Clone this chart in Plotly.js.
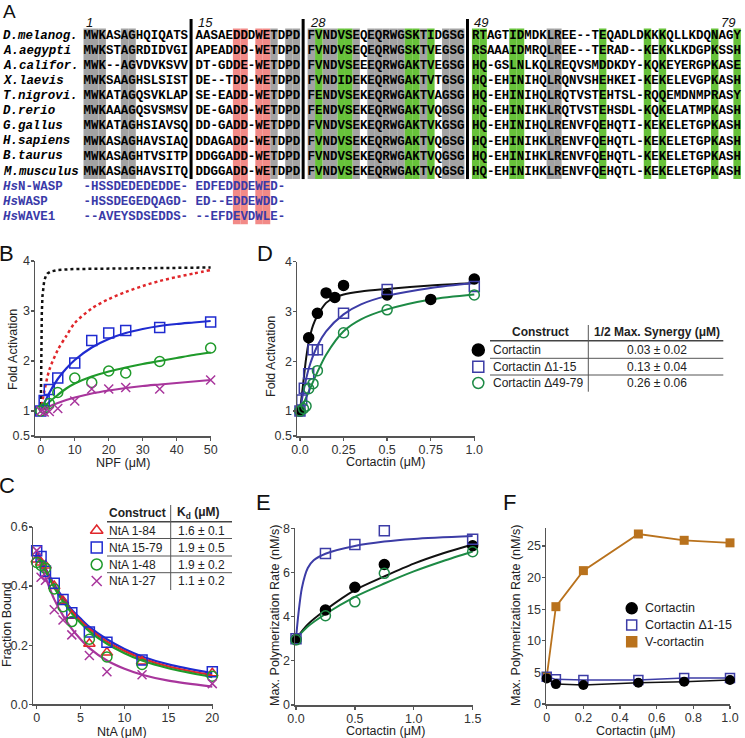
<!DOCTYPE html>
<html><head><meta charset="utf-8">
<script src="https://cdn.plot.ly/plotly-3.0.1.min.js"></script>
<style>body{margin:0;background:#fff}</style>
</head><body><div id="chart" style="width:745px;height:738px"></div>
<script>
// ---------------- Panel A : alignment ----------------
const speciesNames = ["D.melanog.","A.aegypti","A.califor.","X.laevis","T.nigrovi.","D.rerio","G.gallus","H.sapiens","B.taurus","M.musculus"];
const seqBlock1 = ["MWKASAGHQIQATS","MWKSTAGRDIDVGI","MWK--AGVDVKSVV","MWKSAAGHSLSIST","MWKATAGQSVKLAP","MWKAAAGQSVSMSV","MWKATAGHSIAVSQ","MWKASAGHAVSIAQ","MWKASAGHTVSITP","MWKASAGHAVSITQ"];
const seqBlock2 = ["AASAEDDDWETDPD","APEADDD-WETDPD","DT-GDDE-WETDPD","DE--TDD-WETDPD","SE-EADD-WETDPD","DE-GADD-WETDPD","DD-GADD-WETDPD","DDAGADD-WETDPD","DDGGADD-WETDPD","DDGGADD-WETDPD"];
const seqBlock3 = ["FVNDVSEQEQRWGSKTIDGSG","FVNDVSEQEQRWGSKTVEGSG","FVNDVSEEEQRWGAKTVEGSG","FVNDIDEKEQRWGAKTVTGSG","FENDVSEKEQRWGAKTVAGSG","FENDVSEKEQRWGAKTVQGSG","FVNDVSEKEQRWGAKTVKGSG","FVNDVSEKEQRWGAKTVQGSG","FVNDVSEKEQRWGAKTVQGSG","FVNDVSEKEQRWGAKTVQGSG"];
const seqBlock4 = ["RTAGTIDMDKLREE--TEQADLDKKKQLLKDQNAGY","RSAAAIDMRQLREE--TERAD--KEKKLKDGPKSSH","HQ-GSLNLKQLREQVSMDDKDY-KQKEYERGPKASE","HQ-EHINIHQLRQNVSHEHKEI-KEKELEVGPKASH","HQ-EHINIHQLRQTVSTEHTSL-RQQEMDNMPRASY","HQ-EHINIHKLRQTVSTEHSDL-KQKELATMPKASH","HQ-EHINIHQLRENVFQEHQTI-KEKELETGPKASH","HQ-EHINIHKLRENVFQEHQTL-KEKELETGPKASH","HQ-EHINIHKLRENVFQEHQTL-KEKELETGPKASH","HQ-EHINIHKLRENVFQEHQTL-KEKELETGPKASH"];
const npfNames = ["<i>Hs</i>N-WASP","<i>Hs</i>WASP","<i>Hs</i>WAVE1"];
const npfBlock1 = ["-HSSDEDEDEDDE-","-HSSDEGEDQAGD-","--AVEYSDSEDDS-"];
const npfBlock2 = ["EDFEDDDEWED-","ED--EDDEWDD-","--EFDEVDWLE-"];
const residueLabels = ["1","15","28","49","79"];
const residueColumns = [0,15,30,52,85];
// conserved columns (index in the full aligned line, blocks separated by one space)
const grayColumns = [0,1,2,5,6, 25,27,28, 30,32,33,36,38,39,40,41,42,45,48,49,50, 62,63];
const greenColumns = [31,34,35,43,44,46, 52,53,57,58,69,75,77,84,87];
const redColumns = [20,21,23,24];

// ---------------- Panel B ----------------
const npfConc = [0,1,2.5,5,10,15,20,25,35,50];
const bNtA15_79 = [1.0,1.21,1.43,1.66,1.96,2.41,2.56,2.61,2.67,2.78];
const bNtA1_48 = [1.0,1.05,1.15,1.37,1.66,1.57,1.80,1.76,1.99,2.26];
const bNtA1_27 = [1.0,0.98,0.99,1.05,1.20,1.44,1.44,1.47,1.44,1.62];
const bFitX = [0,1,2.5,5,7.5,10,15,20,25,30,35,40,45,50];
const bFit15_79 = [1,1.15,1.36,1.64,1.85,2.02,2.27,2.44,2.56,2.64,2.70,2.74,2.77,2.80];
const bFit1_48 = [1,1.08,1.18,1.32,1.45,1.55,1.69,1.79,1.87,1.94,2.00,2.06,2.12,2.17];
const bFit1_27 = [1,1.04,1.09,1.16,1.22,1.27,1.35,1.41,1.46,1.50,1.53,1.56,1.59,1.62];
const bRedX = [0,0.5,1,2.5,5,7.5,10,15,20,25,30,35,40,45,50];
const bRedY = [1,1.2,1.38,1.82,2.22,2.5,2.76,3.05,3.24,3.38,3.5,3.6,3.68,3.75,3.82];
const bBlackX = [0,0.05,0.1,0.2,0.3,0.5,1,1.5,2,3,5,10,20,35,50];
const bBlackY = [1,1.5,2.0,2.6,2.95,3.3,3.6,3.7,3.75,3.79,3.82,3.84,3.85,3.86,3.87];

// ---------------- Panel C ----------------
const ntaConc = [0,0.5,1,2,3,4,6,8,12,20];
const cNtA1_84 = [0.49,0.48,0.47,0.40,0.35,0.30,0.205,0.175,0.145,0.105];
const cNtA15_79 = [0.52,0.50,0.45,0.41,0.355,0.31,0.245,0.21,0.15,0.11];
const cNtA1_48 = [0.48,0.47,0.46,0.39,0.33,0.28,0.22,0.16,0.135,0.095];
const cNtA1_27 = [0.52,0.43,0.42,0.32,0.285,0.235,0.165,0.11,0.10,0.07];
const cFitX = [0,0.5,1,2,3,4,5,6,8,10,12,15,20];
const cFit1_84 = [0.51,0.48,0.455,0.40,0.355,0.315,0.283,0.255,0.212,0.18,0.155,0.128,0.098];
const cFit15_79 = [0.52,0.49,0.46,0.405,0.36,0.32,0.29,0.262,0.22,0.187,0.162,0.135,0.105];
const cFit1_48 = [0.50,0.475,0.45,0.395,0.348,0.308,0.275,0.247,0.205,0.173,0.148,0.122,0.092];
const cFit1_27 = [0.51,0.47,0.43,0.355,0.30,0.255,0.22,0.19,0.148,0.12,0.10,0.08,0.06];
const cConstructs = ["NtA 1-84","NtA 15-79","NtA 1-48","NtA 1-27"];
const cKd = ["1.6 ± 0.1","1.9 ± 0.5","1.9 ± 0.2","1.1 ± 0.2"];

// ---------------- Panel D ----------------
const dCortX = [0,0.05,0.1,0.15,0.2,0.25,0.5,0.75,1.0];
const dCortY = [1.0,2.47,2.96,3.37,3.28,3.52,3.33,3.24,3.65];
const dD115X = [0,0.01,0.025,0.05,0.075,0.1,0.25,0.5,1.0];
const dD115Y = [1.0,1.22,1.46,1.75,2.23,2.23,2.96,3.44,3.50];
const dD4979X = [0,0.02,0.035,0.05,0.075,0.1,0.25,0.5,1.0];
const dD4979Y = [1.0,1.05,1.1,1.45,1.55,1.81,2.57,3.03,3.33];
const dFitCortX = [0,0.01,0.02,0.035,0.05,0.075,0.1,0.15,0.2,0.25,0.35,0.5,0.75,1.0];
const dFitCortY = [1.0,1.3,1.6,2.05,2.38,2.72,2.91,3.17,3.28,3.34,3.40,3.45,3.52,3.57];
const dFitX = [0,0.02,0.05,0.1,0.15,0.25,0.35,0.5,0.75,1.0];
const dFitD115 = [1.0,1.39,1.85,2.31,2.6,2.94,3.14,3.31,3.47,3.57];
const dFitD4979 = [1.0,1.15,1.39,1.78,2.13,2.6,2.84,3.04,3.24,3.34];
const dConstructs = ["Cortactin","Cortactin Δ1-15","Cortactin Δ49-79"];
const dSynergy = ["0.03 ± 0.02","0.13 ± 0.04","0.26 ± 0.06"];

// ---------------- Panel E ----------------
const eConc = [0,0.25,0.5,0.75,1.5];
const eCort = [2.97,4.3,5.33,6.36,7.21];
const eD115 = [3.0,6.86,7.27,7.89,7.5];
const eD4979 = [2.95,4.04,4.67,5.96,6.94];
const eFitBlueX = [0,0.02,0.05,0.1,0.15,0.25,0.5,0.75,1.0,1.5];
const eFitBlueY = [3.0,4.1,5.3,6.2,6.55,6.85,7.2,7.4,7.52,7.65];
const eFitX = [0,0.1,0.25,0.5,0.75,1.0,1.25,1.5];
const eFitCort = [3.0,3.65,4.3,5.2,5.82,6.4,6.87,7.27];
const eFitD4979 = [3.0,3.55,4.12,4.9,5.5,6.05,6.52,6.95];

// ---------------- Panel F ----------------
const fConc = [0,0.05,0.2,0.5,0.75,1.0];
const fCort = [4.05,3.15,3.0,3.37,3.52,3.79];
const fD115 = [4.3,3.9,3.8,3.8,4.1,4.1];
const fVCort = [4.3,15.4,21.1,26.9,25.9,25.5];
const fLegend = ["Cortactin","Cortactin Δ1-15","V-cortactin"];

// ================= drawing =================
const W = 745, H = 738;
const SANS = "Liberation Sans, Arial, sans-serif";
const MONO = "Liberation Mono, Courier New, monospace";
const CW = 7.47, SEQX = 83.5, ROW0 = 36, ROWH = 15.06, MONOSIZE = 12.45;
const COL = {blueB:'#1f2bd0', greenB:'#1f9a2a', mag:'#a8359c', red:'#e0262a',
             slate:'#3c3ca6', dgreen:'#1d8a45', brown:'#b9721d', gray:'#a3a3a3', green:'#67c23a', pink:'#f28a87', hs:'#3a3aa8'};

const shapes = [], annotations = [], traces = [];
const P = {xref:'x6', yref:'y6'};
function txt(x,y,t,opt){ annotations.push(Object.assign({x:x,y:y,text:t,showarrow:false,xanchor:'center',yanchor:'middle',
  font:{family:SANS,size:12.5,color:'#222'}},P,opt||{})); }
function ttxt(x,y,t,opt){ txt(x,y,t,Object.assign({font:{family:SANS,size:12,color:'#222'}},opt||{})); }
function rect(x0,y0,x1,y1,c){ shapes.push(Object.assign({type:'rect',x0:x0,x1:x1,y0:y0,y1:y1,fillcolor:c,line:{width:0},layer:'below'},P)); }
function line(x0,y0,x1,y1,c,w){ shapes.push(Object.assign({type:'line',x0:x0,x1:x1,y0:y0,y1:y1,line:{color:c,width:w}},P)); }
function sc(ax, x, y, o){ return Object.assign({x:x,y:y,xaxis:'x'+ax,yaxis:'y'+ax,type:'scatter',cliponaxis:false,showlegend:false,hoverinfo:'skip'}, o); }

// sequence rows: one character per column so the columns line up with the shading
function seqRow(str, rowIndex, color){
  const xs = [], ys = [], ts = [];
  str.split('').forEach((ch,i) => { if (ch !== ' ') { xs.push(SEQX + (i+0.5)*CW); ys.push(ROW0 + rowIndex*ROWH); ts.push(ch); } });
  traces.push(sc('6', xs, ys, {mode:'text', text:ts, textposition:'middle center',
    textfont:{family:MONO, size:MONOSIZE, color:color, weight:'bold'}}));
}

// --- Panel A highlights
const topY = ROW0 - ROWH/2, botSpecies = ROW0 + 9*ROWH + ROWH/2, botAll = ROW0 + 12*ROWH + ROWH/2;
grayColumns.forEach(c => rect(SEQX + c*CW, topY, SEQX + (c+1)*CW, botSpecies, COL.gray));
greenColumns.forEach(c => rect(SEQX + c*CW, topY, SEQX + (c+1)*CW, botSpecies, COL.green));
redColumns.forEach(c => rect(SEQX + c*CW, topY, SEQX + (c+1)*CW, botAll, COL.pink));
[14,29,51].forEach(c => line(SEQX + c*CW + 3, 19, SEQX + c*CW + 3, botSpecies, '#000', 3));
residueLabels.forEach((t,i) => txt(SEQX + residueColumns[i]*CW + 0.5, 22, '<i>'+t+'</i>', {xanchor:'left', font:{family:SANS,size:13,color:'#111'}}));
speciesNames.forEach((s,i) => {
  txt(1, ROW0 + i*ROWH, '<b><i>'+s+'</i></b>', {xanchor:'left', font:{family:MONO,size:MONOSIZE,color:'#000'}});
  seqRow([seqBlock1[i],seqBlock2[i],seqBlock3[i],seqBlock4[i]].join(' '), i, '#000');
});
npfNames.forEach((s,i) => {
  txt(1, ROW0 + (10+i)*ROWH, '<b>'+s+'</b>', {xanchor:'left', font:{family:MONO,size:MONOSIZE,color:COL.hs}});
  seqRow(npfBlock1[i]+' '+npfBlock2[i], 10+i, COL.hs);
});

// --- panel letters
[['A',9,11,19],['B',6,253,22],['C',7,485,22],['D',265,253,22],['E',263,502,22],['F',509,502,22]]
  .forEach(l => txt(l[1], l[2], l[0], {font:{family:SANS,size:l[3],color:'#111'}}));

// --- axis titles
txt(13,350,'Fold Activation',{textangle:-90});
txt(123,463,'NPF (μM)');
txt(7,625,'Fraction Bound',{textangle:-90});
txt(122,732,'NtA (μM)');
txt(271,357,'Fold Activation',{textangle:-90});
txt(385,462,'Cortactin (μM)');
txt(275,616,'Max. Polymerization Rate (nM/s)',{textangle:-90});
txt(385,731,'Cortactin (μM)');
txt(516,616,'Max. Polymerization Rate (nM/s)',{textangle:-90});
txt(635,731,'Cortactin (μM)');

// --- C table
ttxt(137,513,'<b>Construct</b>');
ttxt(198,513,'<b>K<sub>d</sub> (μM)</b>');
line(107,521.7,232,521.7,'#444',1.5);
[538.5,556,572.7].forEach(y => line(107,y,232,y,'#555',1));
line(170.7,505,170.7,590,'#555',1);
const cRows = [530.5,547.5,564.5,581];
cConstructs.forEach((s,i) => { ttxt(107,cRows[i],s,{xanchor:'left'}); ttxt(201.7,cRows[i],cKd[i]); });
// --- D table
ttxt(540,332.3,'<b>Construct</b>');
ttxt(656.7,332.3,'<b>1/2 Max. Synergy (μM)</b>');
line(490,340.7,723.3,340.7,'#444',1.5);
[358.3,375].forEach(y => line(490,y,723.3,y,'#555',1));
line(588.3,325,588.3,391.7,'#555',1);
const dRows = [350,366.8,383];
dConstructs.forEach((s,i) => { ttxt(491,dRows[i],s,{xanchor:'left'}); ttxt(656.7,dRows[i],dSynergy[i]); });
// --- F legend text
const fRows = [608.3,625,641.7];
fLegend.forEach((s,i) => txt(642.7,fRows[i],s,{xanchor:'left'}));

// --- traces
function fit(ax,x,y,c,w,dash,shape){ return sc(ax,x,y,{mode:'lines',line:{color:c,width:w||2,dash:dash||'solid',shape:shape||'spline',smoothing:0.8}}); }
function mk(ax,x,y,sym,c,size){ return sc(ax,x,y,{mode:'markers',marker:{symbol:sym,size:size||9,color:c,line:{color:c,width:1.5}}}); }

// B
traces.push(fit('',bBlackX,bBlackY,'#111',2.5,'dot','linear'));
traces.push(fit('',bRedX,bRedY,COL.red,2.5,'dot'));
traces.push(fit('',bFitX,bFit15_79,COL.blueB,2.2));
traces.push(fit('',bFitX,bFit1_48,COL.greenB,2.2));
traces.push(fit('',bFitX,bFit1_27,COL.mag,2.2));
traces.push(mk('',npfConc,bNtA15_79,'square-open',COL.blueB,10));
traces.push(mk('',npfConc,bNtA1_48,'circle-open',COL.greenB,10));
traces.push(mk('',npfConc,bNtA1_27,'x-thin-open',COL.mag,9));
// C
traces.push(fit('2',cFitX,cFit15_79,COL.blueB,2.2));
traces.push(fit('2',cFitX,cFit1_84,COL.red,2.2));
traces.push(fit('2',cFitX,cFit1_48,COL.greenB,2.2));
traces.push(fit('2',cFitX,cFit1_27,COL.mag,2.2));
traces.push(mk('2',ntaConc,cNtA1_84,'triangle-up-open',COL.red,10));
traces.push(mk('2',ntaConc,cNtA15_79,'square-open',COL.blueB,10));
traces.push(mk('2',ntaConc,cNtA1_48,'circle-open',COL.greenB,10));
traces.push(mk('2',ntaConc,cNtA1_27,'x-thin-open',COL.mag,9));
// D
traces.push(fit('3',dFitCortX,dFitCortY,'#111',2));
traces.push(fit('3',dFitX,dFitD115,COL.slate,2));
traces.push(fit('3',dFitX,dFitD4979,COL.dgreen,2));
traces.push(mk('3',dCortX,dCortY,'circle','#000',10));
traces.push(mk('3',dD115X,dD115Y,'square-open',COL.slate,10));
traces.push(mk('3',dD4979X,dD4979Y,'circle-open',COL.dgreen,10));
// E
traces.push(fit('4',eFitBlueX,eFitBlueY,COL.slate,2));
traces.push(fit('4',eFitX,eFitCort,'#111',2));
traces.push(fit('4',eFitX,eFitD4979,COL.dgreen,2));
traces.push(mk('4',eConc,eCort,'circle','#000',10));
traces.push(mk('4',eConc,eD115,'square-open',COL.slate,10));
traces.push(mk('4',eConc,eD4979,'circle-open',COL.dgreen,10));
// F
traces.push(sc('5',fConc,fVCort,{mode:'lines+markers',line:{color:COL.brown,width:1.8},marker:{symbol:'square',size:9,color:COL.brown}}));
traces.push(sc('5',fConc,fD115,{mode:'lines+markers',line:{color:COL.slate,width:1.5},marker:{symbol:'square-open',size:9,color:COL.slate,line:{color:COL.slate,width:1.5}}}));
traces.push(sc('5',fConc,fCort,{mode:'lines+markers',line:{color:'#111',width:1.5},marker:{symbol:'circle',size:10,color:'#000'}}));
// legend symbols (overlay pixel axis)
traces.push(mk('6',[96.7],[cRows[0]],'triangle-up-open',COL.red,11));
traces.push(mk('6',[96.7],[cRows[1]],'square-open',COL.blueB,11));
traces.push(mk('6',[96.7],[cRows[2]],'circle-open',COL.greenB,11));
traces.push(mk('6',[96.7],[cRows[3]],'x-thin-open',COL.mag,10));
traces.push(mk('6',[478.3],[dRows[0]],'circle','#000',12));
traces.push(mk('6',[478.3],[dRows[1]],'square-open',COL.slate,11));
traces.push(mk('6',[478.3],[dRows[2]],'circle-open',COL.dgreen,11));
traces.push(mk('6',[631.7],[fRows[0]],'circle','#000',11));
traces.push(mk('6',[631.7],[fRows[1]],'square-open',COL.slate,10));
traces.push(mk('6',[631.7],[fRows[2]],'square',COL.brown,10));

// --- axes
function dx(a,b){return [a/W,b/W];} function dy(top,bot){return [1-bot/H,1-top/H];}
function ax(anchor,domain,range,extra){ return Object.assign({anchor:anchor,domain:domain,range:range,showgrid:false,zeroline:false,
  showline:true,linecolor:'#555',linewidth:1.5,ticks:'outside',ticklen:3,tickwidth:1.3,tickcolor:'#555',ticklabelstandoff:-2,
  tickfont:{family:SANS,size:12.5,color:'#333'},fixedrange:true},extra||{}); }

const layout = {
  width:W,height:H,margin:{l:0,r:0,t:0,b:0},paper_bgcolor:'#fff',plot_bgcolor:'rgba(0,0,0,0)',showlegend:false,
  font:{family:SANS,size:12.5,color:'#222'},
  xaxis: ax('y',dx(35,211),[-1.7,50.1],{tickvals:[0,10,20,30,40,50]}),
  yaxis: ax('x',dy(261,436),[0.5,4],{tickvals:[0.5,1,2,3,4],ticktext:['0.5','1','2','3','4']}),
  xaxis2: ax('y2',dx(33,213),[-0.42,20.08],{tickvals:[0,5,10,15,20]}),
  yaxis2: ax('x2',dy(527,704.3),[0,0.6],{tickvals:[0,0.2,0.4,0.6],ticktext:['0.0','0.2','0.4','0.6']}),
  xaxis3: ax('y3',dx(297,475),[-0.017,1.004],{tickvals:[0,0.25,0.5,0.75,1],ticktext:['0.0','0.25','0.5','0.75','1.0']}),
  yaxis3: ax('x3',dy(261.5,436),[0.5,4],{tickvals:[0.5,1,2,3,4],ticktext:['0.5','1','2','3','4']}),
  xaxis4: ax('y4',dx(295,473),[-0.0085,1.503],{tickvals:[0,0.5,1,1.5],ticktext:['0.0','0.5','1.0','1.5']}),
  yaxis4: ax('x4',dy(528.3,705),[0,8],{tickvals:[0,2,4,6,8]}),
  xaxis5: ax('y5',dx(546,730),[-0.004,1.0],{tickvals:[0,0.2,0.4,0.6,0.8,1],ticktext:['0','0.2','0.4','0.6','0.8','1.0']}),
  yaxis5: ax('x5',dy(528.3,704),[0,27.8],{tickvals:[0,5,10,15,20,25]}),
  xaxis6: {anchor:'y6',domain:[0,1],range:[0,W],visible:false,fixedrange:true},
  yaxis6: {anchor:'x6',domain:[0,1],range:[H,0],visible:false,fixedrange:true},
  shapes:shapes, annotations:annotations
};
Plotly.newPlot('chart',traces,layout,{displayModeBar:false,staticPlot:true});
</script></body></html>
